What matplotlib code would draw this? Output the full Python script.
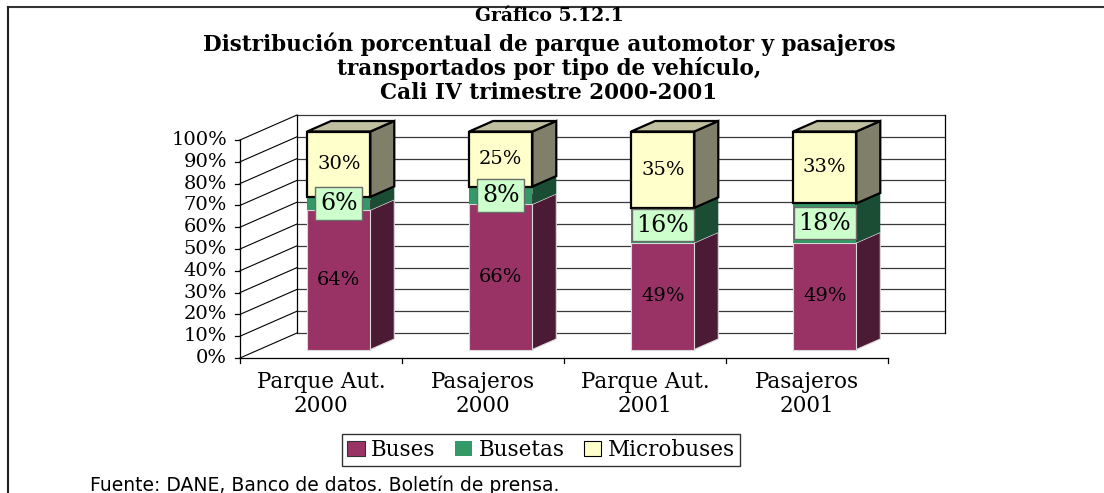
import matplotlib
matplotlib.use("Agg")
import matplotlib.pyplot as plt
from matplotlib.patches import Polygon, Patch
from matplotlib.lines import Line2D
from matplotlib.transforms import ScaledTranslation

# ---- data -------------------------------------------------------------
categories = ["Parque Aut.\n2000", "Pasajeros\n2000", "Parque Aut.\n2001", "Pasajeros\n2001"]
buses = [64, 66, 49, 49]
busetas = [6, 8, 16, 18]
microbuses = [30, 25, 35, 33]
series_names = ["Buses", "Busetas", "Microbuses"]
y_ticks = [0, 10, 20, 30, 40, 50, 60, 70, 80, 90, 100]

title_1 = "Gráfico 5.12.1"
title_2 = ("Distribución porcentual de parque automotor y pasajeros\n"
           "transportados por tipo de vehículo,\n"
           "Cali IV trimestre 2000-2001")
source = "Fuente: DANE, Banco de datos. Boletín de prensa."

# ---- styling ----------------------------------------------------------
SERIF = "DejaVu Serif"
faces = {
    "Buses": ("#993366", "#4b1a35", "#7a2952"),
    "Busetas": ("#339966", "#1b4d34", "#2a7d55"),
    "Microbuses": ("#ffffcc", "#80806a", "#c0c0a0"),
}
edges = {"Buses": ("#d9d9d9", 0.8), "Busetas": ("none", 0.0), "Microbuses": ("black", 1.6)}

W, H = 1104, 493
fig = plt.figure(figsize=(W / 100, H / 100), dpi=100)

# oblique 3-D box: front plane spans the 4 categories, back wall is shifted
PX_CAT = 162.0        # pixels per category
PX_PCT = 2.18         # pixels per percent
DX_PX, DY_PX = 57.0, 25.0
DX, DY = DX_PX / PX_CAT, DY_PX / PX_PCT
n = len(categories)
xmax = n + DX
ymax = 100 + DY

left_px, bottom_px = 240, 358
ax = fig.add_axes([left_px / W, (H - bottom_px) / H,
                   xmax * PX_CAT / W, ymax * PX_PCT / H])
ax.set_xlim(0, xmax)
ax.set_ylim(0, ymax)
ax.axis("off")

def line(xs, ys, **kw):
    kw.setdefault("color", "black")
    kw.setdefault("lw", 0.9)
    ax.add_line(Line2D(xs, ys, clip_on=False, **kw))

# back wall grid and frame
for v in y_ticks:
    line([DX, xmax], [v + DY, v + DY], color="#3a3a3a", lw=0.9, zorder=1)
line([xmax, xmax], [DY, ymax], zorder=1)
line([DX, DX], [DY, ymax], zorder=1)
# side wall diagonals
for v in y_ticks:
    line([0, DX], [v, v + DY], lw=0.8, zorder=1)
# front axis + floor edge
line([0, 0], [0, 100], zorder=1)
line([0, n], [0, 0], zorder=1)

to_left = lambda px: ax.transData + ScaledTranslation(-px / 100, 0, fig.dpi_scale_trans)
to_down = lambda px: ax.transData + ScaledTranslation(0, -px / 100, fig.dpi_scale_trans)
for v in y_ticks:
    line([-5 / PX_CAT, 0], [v, v], zorder=1)
    ax.text(0, v, f"{v}%", transform=to_left(13), ha="right", va="center",
            family=SERIF, fontsize=14, color="black")
for i in range(n + 1):
    line([i, i], [0, -5 / PX_PCT], zorder=1)
for i, lab in enumerate(categories):
    ax.text(i + 0.5, 0, lab, transform=to_down(13), ha="center", va="top",
            family=SERIF, fontsize=15.5, linespacing=1.1)

# ---- bars -------------------------------------------------------------
BAR_W = 0.39
FRONT = 0.34
DEPTH = 0.42
ddx, ddy = DEPTH * DX, DEPTH * DY
fx, fy = FRONT * DX, FRONT * DY

stack = list(zip(buses, busetas, microbuses))
for i, vals in enumerate(stack):
    total = float(sum(vals))
    x0 = i + 0.49 - BAR_W / 2 + fx
    x1 = x0 + BAR_W
    lo = 0.0
    for k, (name, v) in enumerate(zip(series_names, vals)):
        hi = lo + 100.0 * v / total
        yb, yt = lo + fy, hi + fy
        fc, sc, tc = faces[name]
        ec, lw = edges[name]
        z = 3 + k
        ax.add_patch(Polygon([(x1, yb), (x1 + ddx, yb + ddy), (x1 + ddx, yt + ddy), (x1, yt)],
                             closed=True, facecolor=sc, edgecolor=ec, lw=lw, zorder=z, clip_on=False))
        ax.add_patch(Polygon([(x0, yt), (x1, yt), (x1 + ddx, yt + ddy), (x0 + ddx, yt + ddy)],
                             closed=True, facecolor=tc, edgecolor=ec, lw=lw, zorder=z, clip_on=False))
        ax.add_patch(Polygon([(x0, yb), (x1, yb), (x1, yt), (x0, yt)],
                             closed=True, facecolor=fc, edgecolor=ec, lw=lw, zorder=z, clip_on=False))
        cx, cy = (x0 + x1) / 2, (yb + yt) / 2
        if name == "Busetas":
            ax.text(cx, cy, f"{v}%", ha="center", va="center", family=SERIF, fontsize=17,
                    zorder=20, bbox=dict(boxstyle="square,pad=0.2", facecolor="#ccffcc",
                                         edgecolor="#6b6b6b", lw=1.0))
        else:
            ax.text(cx, cy, f"{v}%", ha="center", va="center", family=SERIF,
                    fontsize=14, zorder=20)
        lo = hi

# ---- legend -----------------------------------------------------------
handles = [
    Patch(facecolor=faces["Buses"][0], edgecolor="#333333", lw=0.8),
    Patch(facecolor=faces["Busetas"][0], edgecolor="none"),
    Patch(facecolor=faces["Microbuses"][0], edgecolor="black", lw=0.8),
]
leg = fig.legend(handles, series_names, loc="center", bbox_to_anchor=(541 / W, 1 - 450 / H),
                 ncol=3, frameon=True, fancybox=False, edgecolor="black",
                 prop=dict(family=SERIF, size=15.5), handlelength=0.8, handleheight=0.7,
                 handletextpad=0.3, columnspacing=0.9, borderpad=0.25)
leg.get_frame().set_linewidth(1.0)

# ---- titles, source, outer frame --------------------------------------
fig.text(549 / W, 1 - 16 / H, title_1, ha="center", va="center", family=SERIF,
         fontweight="bold", fontsize=13.5)
fig.text(549 / W, 1 - 68 / H, title_2, ha="center", va="center", family=SERIF,
         fontweight="bold", fontsize=15.5, linespacing=1.1)
fig.text(90 / W, 1 - 485 / H, source, ha="left", va="center", family="DejaVu Sans",
         fontsize=13.5)

fig.add_artist(Line2D([8 / W, 1.0], [1 - 7 / H, 1 - 7 / H], color="#333333", lw=1.5,
                      transform=fig.transFigure))
fig.add_artist(Line2D([8 / W, 8 / W], [0, 1 - 7 / H], color="#222222", lw=1.5,
                      transform=fig.transFigure))

fig.savefig("out.png", dpi=100, facecolor="white")
